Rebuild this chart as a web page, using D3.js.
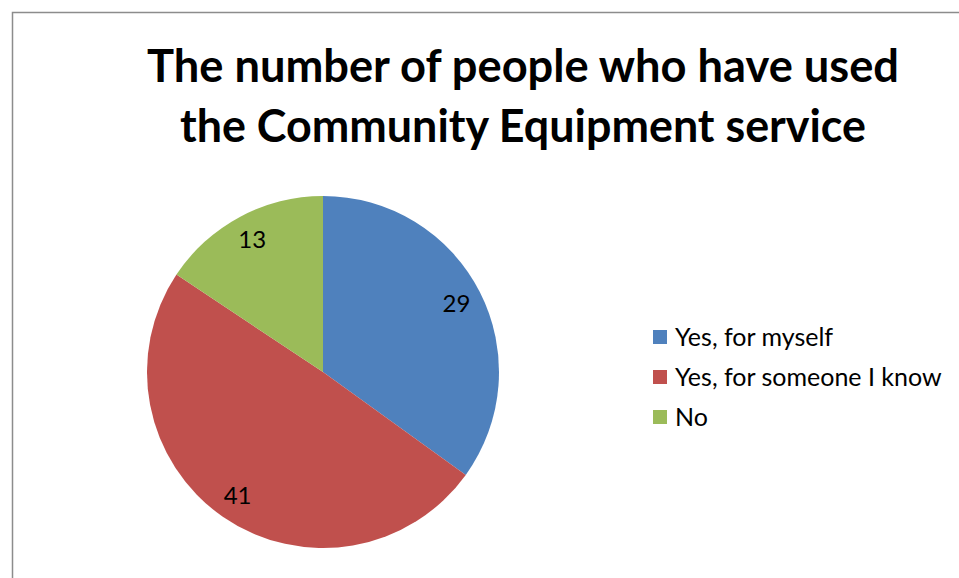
<!DOCTYPE html>
<html>
<head>
<meta charset="utf-8">
<script src="https://cdn.jsdelivr.net/npm/d3@7"></script>
<style>
  body { margin: 0; background: #fff; }
  text { font-family: Lato, "Open Sans", sans-serif; }
</style>
</head>
<body>
<div id="chart"></div>
<script>
// Chart data
const categories = ["Yes, for myself", "Yes, for someone I know", "No"];
const values = [29, 41, 13];
const colors = ["#4f81bd", "#c0504d", "#9bbb59"];
const titleLines = ["The number of people who have used", "the Community Equipment service"];

const width = 959, height = 578;

const svg = d3.select("#chart")
    .append("svg")
    .attr("width", width)
    .attr("height", height);

svg.append("rect")
    .attr("width", width)
    .attr("height", height)
    .attr("fill", "#fff");

// chart area border
svg.append("rect")
    .attr("x", 12.5)
    .attr("y", 12.5)
    .attr("width", width)
    .attr("height", height)
    .attr("fill", "none")
    .attr("stroke", "#8c8c8c")
    .attr("stroke-width", 1.5);

// Title, fit each line to its width in the reference
const titleWidths = [752, 686];
svg.selectAll(".title")
    .data(titleLines)
    .enter()
    .append("text")
    .attr("class", "title")
    .attr("x", 523)
    .attr("y", (d, i) => 82 + i * 60)
    .attr("text-anchor", "middle")
    .attr("font-size", "46px")
    .attr("font-weight", "bold")
    .attr("fill", "#000")
    .text(d => d)
    .attr("textLength", (d, i) => titleWidths[i])
    .attr("lengthAdjust", "spacingAndGlyphs");

// Pie
const cx = 323, cy = 372, radius = 176;
const pie = d3.pie().sort(null).value(d => d);
const arc = d3.arc().innerRadius(0).outerRadius(radius);
const labelArc = d3.arc().innerRadius(150).outerRadius(150);

const g = svg.append("g")
    .attr("transform", `translate(${cx},${cy})`);

const arcs = pie(values);

g.selectAll(".slice")
    .data(arcs)
    .enter()
    .append("path")
    .attr("class", "slice")
    .attr("d", arc)
    .attr("fill", (d, i) => colors[i]);

g.selectAll(".label")
    .data(arcs)
    .enter()
    .append("text")
    .attr("class", "label")
    .attr("transform", d => `translate(${labelArc.centroid(d)})`)
    .attr("text-anchor", "middle")
    .attr("dy", "0.35em")
    .attr("font-size", "24px")
    .attr("fill", "#000")
    .text(d => d.data);

// Legend
const legend = svg.append("g")
    .attr("transform", "translate(653, 337)");

legend.selectAll(".legend-rect")
    .data(categories)
    .enter()
    .append("rect")
    .attr("x", 0)
    .attr("y", (d, i) => i * 40 - 7)
    .attr("width", 14)
    .attr("height", 14)
    .attr("fill", (d, i) => colors[i]);

legend.selectAll(".legend-label")
    .data(categories)
    .enter()
    .append("text")
    .attr("x", 22)
    .attr("y", (d, i) => i * 40)
    .attr("dy", "0.35em")
    .attr("font-size", "25px")
    .attr("fill", "#000")
    .text(d => d);
</script>
</body>
</html>
